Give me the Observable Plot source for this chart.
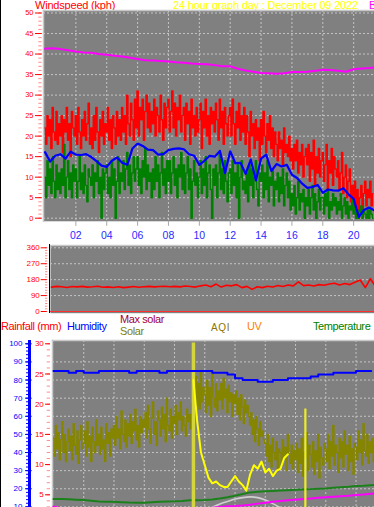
<!DOCTYPE html>
<html><head><meta charset="utf-8">
<script src="https://cdn.jsdelivr.net/npm/d3@7"></script>
<script src="https://cdn.jsdelivr.net/npm/@observablehq/plot@0.6"></script>
<style>
html,body{margin:0;padding:0;background:#fff;}
#wrap{position:relative;width:374px;height:507px;overflow:hidden;background:#fff;font-family:"Liberation Sans",Arial,sans-serif;}
.t{position:absolute;white-space:nowrap;font-size:11px;line-height:11px;letter-spacing:-0.4px;}
.p{position:absolute;left:0;}
</style></head><body>
<div id="wrap">
  <div class="t" style="left:35px;top:0px;color:#ff0000;letter-spacing:-0.2px">Windspeed (kph)</div>
  <div class="t" style="left:173px;top:0px;color:#ffff00;letter-spacing:-0.2px">24 hour graph day : December 09 2022</div>
  <div class="t" style="left:369px;top:0px;color:#ff00ff;letter-spacing:-0.2px">B</div>
  <div id="p1" class="p" style="top:0px"></div>
  <div id="p2" class="p" style="top:240px"></div>
  <div class="t" style="left:1px;top:321px;color:#ff0000">Rainfall (mm)</div>
  <div class="t" style="left:67px;top:321px;color:#0000ff">Humidity</div>
  <div class="t" style="left:120px;top:314px;color:#a0003c">Max solar</div>
  <div class="t" style="left:120px;top:326px;color:#808000">Solar</div>
  <div class="t" style="left:211px;top:322px;color:#8b7500;font-size:10px;letter-spacing:0.6px">AQI</div>
  <div class="t" style="left:247px;top:321px;color:#ff8000">UV</div>
  <div class="t" style="left:313px;top:321px;color:#008000">Temperature</div>
  <div id="p3" class="p" style="top:330px"></div>
  <div style="position:absolute;left:28.3px;top:340px;width:2.4px;height:167px;background:#0000ff"></div>
  <div style="position:absolute;left:48.5px;top:244px;width:1.8px;height:69px;background:#000"></div>
  <div style="position:absolute;left:0;top:0;width:1px;height:507px;background:#000"></div>
</div>
<script>
// ---------- Panel 1: wind (kph), 5-minute samples from 00:00 ----------
const gust = [
22,18,25,20,24,17,27,21,19,26,18,23,
20,25,16,24,21,27,19,23,15,26,22,20,
25,18,27,21,17,24,20,26,19,23,28,18,
22,17,25,19,27,21,16,24,20,26,18,23,
21,27,19,24,17,25,22,18,26,20,24,19,
27,21,25,18,30,23,20,28,24,19,29,22,
31,20,27,24,29,19,26,30,22,28,21,26,
23,29,20,27,25,21,30,24,19,28,22,27,
29,21,26,31,22,28,20,27,24,30,21,25,
27,19,28,23,26,18,29,22,25,20,27,21,
24,28,17,26,22,29,20,25,18,27,23,26,
21,28,24,19,29,22,26,18,27,23,20,25,
27,20,29,23,18,26,22,28,19,25,21,27,
18,25,21,15,26,20,23,17,24,19,22,14,
24,18,26,20,16,23,19,25,17,22,15,21,
18,14,21,17,19,13,22,16,18,15,20,14,
17,12,18,14,19,11,16,13,18,10,15,17,
13,18,9,16,12,19,8,15,11,17,10,14,
16,9,13,18,7,14,11,17,8,15,12,10,
14,7,11,16,6,10,13,5,9,12,4,8,
3,9,2,7,0,5,8,1,6,9,3,7,
5,9,3,6];
const speed = [
10,5,14,8,12,6,15,9,5,13,7,11,
6,12,8,18,5,10,14,7,11,5,13,9,
12,5,9,15,7,11,6,13,8,4,12,10,
8,13,5,11,9,14,6,10,0,12,7,11,
13,6,10,5,14,8,12,0,9,15,6,11,
9,14,7,12,16,8,13,6,11,15,9,12,
15,8,12,6,14,10,17,7,13,9,11,5,
12,7,15,9,13,5,11,16,8,12,6,14,
9,14,6,11,15,8,12,5,13,10,16,7,
13,6,11,15,7,12,0,9,14,8,11,5,
10,14,6,12,8,15,5,11,13,7,0,12,
8,13,5,11,16,7,12,6,14,9,4,11,
12,6,14,8,11,5,13,0,10,14,7,9,
6,11,4,13,8,12,5,10,14,7,3,11,
9,13,5,11,7,14,4,10,8,12,3,9,
7,11,4,10,6,12,3,8,11,5,9,2,
6,3,8,1,5,9,2,6,4,7,0,5,
3,7,1,5,8,2,6,0,4,7,2,5,
5,1,6,3,7,0,4,2,6,3,5,1,
4,2,6,0,3,5,1,4,0,3,2,5,
1,3,0,2,0,1,3,0,2,1,0,2,
0,2,1,0];
// 10-minute average, 20-minute samples
const avg10 = [16.1,13.8,15.2,15.6,14.5,16.2,15.5,15.4,15.6,14.9,13.9,12.8,12.5,14.0,14.8,13.5,13.0,17.0,18.2,17.6,16.7,16.6,15.5,15.6,16.6,16.9,17.0,16.8,15.6,15.2,13.0,14.0,15.2,15.0,16.4,11.0,16.3,13.4,13.5,10.8,14.3,9.2,14.5,15.5,11.5,13.2,12.6,13.0,10.6,9.8,8.4,7.4,7.6,8.1,6.2,7.0,6.8,6.7,7.3,5.8,4.7,0.3,2.0,2.6,1.9];
// barometer trace (drawn on the kph grid), 30-minute samples
const baro = [41.3,41.4,41.2,40.9,40.6,40.4,40.3,40.0,39.8,39.6,39.4,39.1,38.8,38.5,38.4,38.3,38.2,38.0,37.9,37.7,37.6,37.5,37.3,37.0,37.0,36.4,36.0,35.7,35.4,35.3,35.2,35.3,35.6,35.6,35.7,35.9,36.2,36.1,35.9,35.7,36.3,36.5,36.6,36.8];
const windTicks = [0,5,10,15,20,25,30,35,40,45,50];
const hourTicks = [2,4,6,8,10,12,14,16,18,20];

// ---------- Panel 2: wind direction (deg), 20-minute samples ----------
const windDir = [138,142,140,136,141,139,142,138,140,143,137,139,136,140,135,138,141,137,140,142,139,141,143,140,142,139,144,141,138,145,150,140,155,138,148,145,152,135,142,125,140,135,143,138,147,141,150,145,168,146,150,144,152,148,155,160,150,158,152,165,178,135,185,140,160];
const dirTicks = [0,90,180,270,360];

// ---------- Panel 3: humidity (%) axis with rainfall (mm) axis ----------
const humidity = [85,85,84,85,84,84,85,85,85,85,84,85,85,85,84,85,85,85,85,85,85,84,84,83,81,80,80,79,79,80,80,81,81,81,82,83,83,84,84,84,85,85,85]; // 30-min
const temperature = [14.3,14.3,14.2,14.0,13.8,13.4,13.0,12.8,12.8,12.6,12.4,12.3,12.3,12.6,12.9,13.0,13.1,13.3,13.6,13.7,13.8,14.1,14.6,15.3,16.2,17.1,18.0,18.3,18.6,18.8,19.0,19.2,19.4,19.6,19.8,20.0,20.2,20.5,20.8,21.1,21.5,21.7,22.0,22.1]; // 30-min, on % grid
const magentaLow = [10.2,9.2,9.0,9.0,9.0,9.0,9.0,9.0,9.0,9.0,9.0,9.0,9.0,9.0,9.0,9.0,9.0,9.0,9.0,9.0,9.0,9.5,10.0,10.3,10.5,10.8,11.2,11.8,12.3,12.8,13.2,13.6,14.0,14.3,14.6,15.0,15.3,15.6,15.9,16.2,16.6,16.9,17.3,17.5]; // 30-min
const maxSolarStart = 10;
const maxSolar = [8,9.8,11.6,13.0,14.3,15.1,15.5,15.1,13.8,11.8,9.5,7]; // 30-min from 10:00
const aqi = [
48,38,55,42,51,36,47,57,40,50,35,46,
53,41,49,36,56,44,39,52,34,47,55,42,
45,52,38,57,43,49,35,54,46,40,58,44,
50,39,54,42,47,35,56,45,51,38,53,48,
55,44,60,48,53,42,63,50,46,58,43,56,
49,61,45,57,52,64,47,55,43,60,51,58,
54,62,48,66,53,45,59,68,50,57,44,63,
58,49,65,53,61,46,70,55,52,64,48,60,
56,66,50,62,58,68,52,60,55,49,64,57,
61,53,67,56,70,82,66,78,64,85,68,76,
72,62,80,66,76,60,84,70,65,78,63,74,
69,78,64,81,70,75,62,77,68,73,60,72,
67,74,61,70,58,72,65,56,69,62,66,60,
55,62,50,58,46,60,53,44,57,49,52,47,
45,38,50,35,44,32,48,40,36,46,30,42,
40,33,47,37,43,30,50,39,34,44,31,41,
36,45,29,42,34,48,27,40,37,51,30,44,
39,32,46,28,41,35,50,26,43,37,33,45,
42,35,50,31,46,38,55,33,44,40,29,48,
37,46,32,52,39,44,30,49,35,42,28,45,
43,36,52,40,47,33,56,41,38,50,34,46,
40,48,35,44]; // 5-min, on % grid
const solarStart = 9.25;
const solar = [80,57,40,33,26,23,24,22,21,21,24,27,24,22,19,28,33,31,35,29,31,27,30,31,37,39]; // 15-min from 09:15
const spikeHours = [9.25,16.65];
const spikeTops = [100.5,64];
const spikeColors = ["#d4d43c","#ecec28"];
const spikeWidths = [3.5,2.2];
const humTicks = [10,20,30,40,50,60,70,80,90,100];
const rainTicks = [0,5,10,15,20,25,30];

// ---------- build ----------
const series = (arr, step, start=0) => arr.map((v,i)=>({h: start + i*step, v}));
const grid = {stroke:"#c4c4c4", strokeOpacity:1, strokeDasharray:"2,2"};
const font = "Liberation Sans, Arial, sans-serif";
const ticksOnly = (ticks, o) => Plot.axisY(ticks, {fill:"none", label:null, tickFormat:()=>"", ...o});
const textOnly = (ticks, o) => Plot.axisY(ticks, {tickSize:0, tickPadding:0, stroke:"none", label:null, ...o});
const spikes = spikeHours.map((h,i)=>({h, top:spikeTops[i], c:spikeColors[i], w:spikeWidths[i]}));

const p1 = Plot.plot({
  width:374, height:245, marginLeft:43, marginRight:0, marginTop:10, marginBottom:24.2,
  style:{background:"transparent", fontFamily:font},
  x:{domain:[-0.097,21.35], axis:null},
  y:{domain:[-0.755,50.61], axis:null},
  marks:[
    Plot.frame({fill:"#808080", stroke:null}),
    Plot.gridY(windTicks, grid),
    Plot.gridX(hourTicks, grid),
    Plot.frame({anchor:"top", stroke:"#c8c8c8", strokeWidth:1.5}),
    Plot.frame({anchor:"left", stroke:"#c8c8c8", strokeWidth:1.5}),
    Plot.line(series(gust,1/12), {x:"h", y:"v", stroke:"#ff0000", strokeWidth:1.4, curve:"step"}),
    Plot.line(series(speed,1/12), {x:"h", y:"v", stroke:"#008000", strokeWidth:1.4, curve:"step"}),
    Plot.line(series(avg10,1/3), {x:"h", y:"v", stroke:"#0000ff", strokeWidth:2.2}),
    Plot.line(series(baro,0.5), {x:"h", y:"v", stroke:"#ff00ff", strokeWidth:2}),
    ticksOnly(d3.range(0,51,1), {tickSize:3.4, dx:-1.3, stroke:"#ff8c8c"}),
    ticksOnly(windTicks, {tickSize:6.7, dx:-1.3, stroke:"#ff0000"}),
    textOnly(windTicks, {dx:-10, fill:"#ff0000", fontSize:7.5}),
    Plot.axisX(hourTicks, {tickSize:5, stroke:"#a8a8a8", fill:"none", label:null, tickFormat:()=>""}),
    Plot.axisX(hourTicks, {tickSize:0, tickPadding:10.4, stroke:"none", fill:"#2a2aff", fontSize:10.5, tickFormat:d=>String(d).padStart(2,"0"), label:null})
  ]
});
document.getElementById("p1").append(p1);

const p2 = Plot.plot({
  width:374, height:75, marginLeft:50, marginRight:0, marginTop:5, marginBottom:2.3,
  style:{background:"transparent", fontFamily:font},
  x:{domain:[-0.065,20.93], axis:null},
  y:{domain:[-9.6,373], axis:null},
  marks:[
    Plot.frame({fill:"#808080", stroke:null}),
    Plot.gridY(dirTicks.slice(1), grid),
    Plot.frame({anchor:"top", stroke:"#c8c8c8", strokeWidth:1.5}),
    Plot.ruleY(dirTicks.slice(0,1), {stroke:"#ff3030", strokeWidth:1.2}),
    Plot.line(series(windDir,1/3), {x:"h", y:"v", stroke:"#ff0000", strokeWidth:1.6}),
    ticksOnly(d3.range(0,361,15), {tickSize:2.3, dx:-2.7, stroke:"#ff8c8c"}),
    ticksOnly(dirTicks, {tickSize:6, dx:-3.3, stroke:"#ff0000"}),
    textOnly(dirTicks, {dx:-10.7, fill:"#ff0000", fontSize:8})
  ]
});
document.getElementById("p2").append(p2);

const p3 = Plot.plot({
  width:374, height:177, marginLeft:52, marginRight:0, marginTop:10, marginBottom:0,
  style:{background:"transparent", fontFamily:font},
  x:{domain:[-0.066,21.22], axis:null},
  y:{domain:[9.66,101.82], axis:null},
  marks:[
    Plot.frame({fill:"#808080", stroke:null}),
    Plot.gridY(humTicks.slice(0,9), grid),
    Plot.gridX(hourTicks, grid),
    Plot.frame({anchor:"top", stroke:"#c8c8c8", strokeWidth:1.5}),
    Plot.frame({anchor:"left", stroke:"#c8c8c8", strokeWidth:1.5}),
    Plot.line(series(maxSolar,0.5,maxSolarStart), {x:"h", y:"v", stroke:"#d0d0d0", strokeWidth:1.6, curve:"natural"}),
    Plot.line(series(magentaLow,0.5), {x:"h", y:"v", stroke:"#ff00ff", strokeWidth:2}),
    Plot.line(series(temperature,0.5), {x:"h", y:"v", stroke:"#1a801a", strokeWidth:2}),
    Plot.line(series(aqi,1/12), {x:"h", y:"v", stroke:"#858500", strokeWidth:1.3, curve:"step"}),
    Plot.ruleX(spikes, {x:"h", y1:0, y2:"top", stroke:"c", strokeWidth:"w"}),
    Plot.line(series(solar,0.25,solarStart), {x:"h", y:"v", stroke:"#ffff00", strokeWidth:2}),
    Plot.line(series(humidity,0.5), {x:"h", y:"v", stroke:"#0000ff", strokeWidth:2, curve:"step-after"}),
    ticksOnly(d3.range(0,31,1).map(r=>r*100/30), {tickSize:3.3, dx:-2, stroke:"#ff8c8c"}),
    ticksOnly(rainTicks.map(r=>r*100/30), {tickSize:5, dx:-2, stroke:"#ff0000"}),
    textOnly(rainTicks.slice(1).map(r=>r*100/30), {dx:-8.7, fill:"#ff0000", fontSize:8, tickFormat:d=>Math.round(d*30/100)}),
    ticksOnly(d3.range(10,101,2), {tickSize:2.3, dx:-23.7, stroke:"#0000ff"}),
    ticksOnly(humTicks, {tickSize:6.7, dx:-20.3, stroke:"#0000ff"}),
    textOnly(humTicks, {dx:-30, fill:"#0000ff", fontSize:8})
  ]
});
document.getElementById("p3").append(p3);
</script>
</body></html>
